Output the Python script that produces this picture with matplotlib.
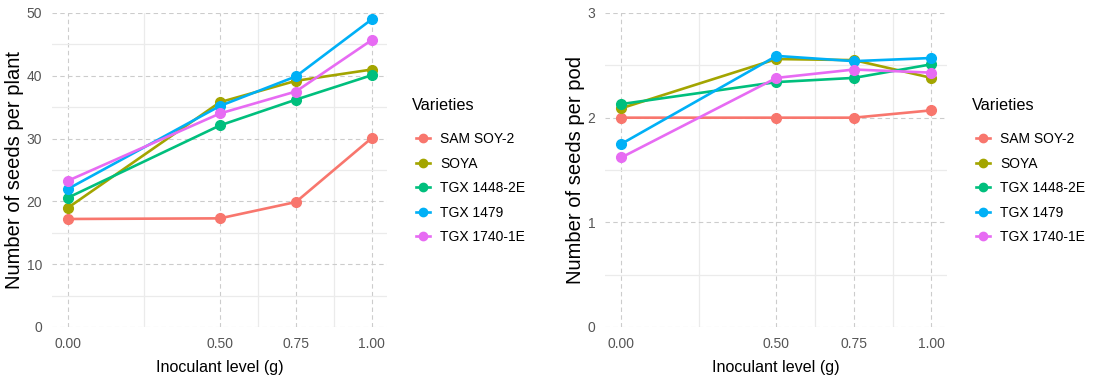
import matplotlib.pyplot as plt
from matplotlib.lines import Line2D

plt.rcParams['font.family'] = ['Liberation Sans', 'DejaVu Sans']

# Inoculant levels (g)
levels = [0.0, 0.5, 0.75, 1.0]
level_labels = ['0.00', '0.50', '0.75', '1.00']

varieties = ['SAM SOY-2', 'SOYA', 'TGX 1448-2E', 'TGX 1479', 'TGX 1740-1E']
colors = ['#F8766D', '#A3A500', '#00BF7D', '#00B0F6', '#E76BF3']

# Number of seeds per plant
plant_sam_soy2 = [17.2, 17.3, 19.9, 30.1]
plant_soya = [19.0, 35.8, 39.2, 41.0]
plant_tgx1448 = [20.6, 32.1, 36.2, 40.1]
plant_tgx1479 = [22.0, 35.2, 39.9, 49.0]
plant_tgx1740 = [23.3, 34.0, 37.5, 45.7]

# Number of seeds per pod
pod_sam_soy2 = [2.00, 2.00, 2.00, 2.07]
pod_soya = [2.09, 2.56, 2.55, 2.38]
pod_tgx1448 = [2.13, 2.34, 2.38, 2.51]
pod_tgx1479 = [1.75, 2.59, 2.54, 2.57]
pod_tgx1740 = [1.62, 2.38, 2.46, 2.43]

plant_series = [plant_sam_soy2, plant_soya, plant_tgx1448, plant_tgx1479, plant_tgx1740]
pod_series = [pod_sam_soy2, pod_soya, pod_tgx1448, pod_tgx1479, pod_tgx1740]

W, H = 1093, 380
fig = plt.figure(figsize=(W / 100, H / 100), dpi=100, facecolor='white')


def panel(left_px, width_px, series, ymax, yticks, yminor, ylabel, legend_x):
    ax = fig.add_axes([left_px / W, (H - 327) / H, width_px / W, 314 / H])
    for vals, col in zip(series, colors):
        ax.plot(levels, vals, color=col, linewidth=1.9, marker='o',
                markersize=7, zorder=3)
    ax.set_xlim(-0.053, 1.05)
    ax.set_ylim(0, ymax)
    ax.set_xticks(levels)
    ax.set_xticklabels(level_labels)
    ax.set_xticks([0.25, 0.625, 0.875], minor=True)
    ax.set_yticks(yticks)
    ax.set_yticks(yminor, minor=True)
    ax.grid(which='minor', color='#ebebeb', linewidth=0.9, linestyle='-')
    ax.grid(which='major', color='#cccccc', linewidth=0.8, linestyle=(0, (4, 3)))
    ax.set_axisbelow(True)
    for s in ax.spines.values():
        s.set_visible(False)
    ax.tick_params(which='both', length=0, labelsize=10, colors='#555555',
                   pad=7)
    ax.set_xlabel('Inoculant level (g)', fontsize=11.6, color='black',
                  labelpad=7)
    ax.set_ylabel(ylabel, fontsize=14.5, color='black', labelpad=2)

    # legend title placed separately so the gap to the keys matches
    fig.text((legend_x - 4) / W, (H - 110) / H, 'Varieties', fontsize=11.7,
             va='baseline', ha='left', color='black')
    handles = [Line2D([], [], color=c, linewidth=1.9, marker='o', markersize=6)
               for c in colors]
    ax.legend(handles, varieties, loc='upper left',
              bbox_to_anchor=(legend_x / W, (H - 132) / H),
              bbox_transform=fig.transFigure, frameon=False,
              fontsize=10, handlelength=1.0, handletextpad=0.75,
              labelspacing=0.76, borderpad=0, borderaxespad=0)
    return ax


panel(52, 335, plant_series, 50, [0, 10, 20, 30, 40, 50],
      [5, 15, 25, 35, 45], 'Number of seeds per plant', 416)
panel(605, 342, pod_series, 3, [0, 1, 2, 3],
      [0.5, 1.5, 2.5], 'Number of seeds per pod', 976)

fig.savefig('out.png', dpi=100, facecolor='white')
